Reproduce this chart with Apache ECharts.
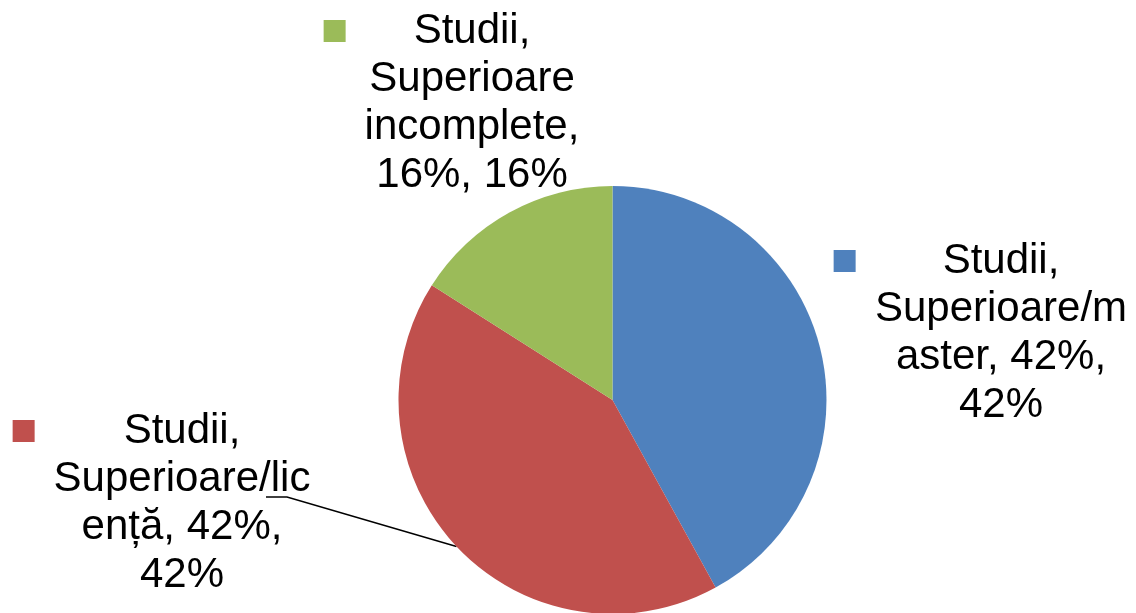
<!DOCTYPE html>
<html>
<head>
<meta charset="utf-8">
<script src="https://cdn.jsdelivr.net/npm/echarts@6/dist/echarts.min.js"></script>
<style>
html,body{margin:0;padding:0;background:#fff;}
#chart{width:1136px;height:613px;}
</style>
</head>
<body>
<div id="chart"></div>
<script>
// Data
var categories = ['Studii, Superioare/master', 'Studii, Superioare/licență', 'Studii, Superioare incomplete'];
var values = [42, 42, 16];
var percents = ['42%', '42%', '16%'];
var labelLines = [
  ['Studii,', 'Superioare/m', 'aster, 42%,', '42%'],
  ['Studii,', 'Superioare/lic', 'ență, 42%,', '42%'],
  ['Studii,', 'Superioare', 'incomplete,', '16%, 16%']
];
var colors = ['#4F81BD', '#C0504D', '#9BBB59'];

// Layout (style only)
var labelPos = [
  {x: 1001, y: 237, gap: 109},
  {x: 182, y: 407, gap: 111},
  {x: 472, y: 7, gap: 90}
];

var chart = echarts.init(document.getElementById('chart'), null, {renderer: 'canvas'});

var data = categories.map(function (name, i) {
  var g = labelPos[i].gap;
  var rich = {
    sq: {width: 22, height: 22, backgroundColor: colors[i]},
    sp: {width: g - 22, height: 1},
    sr: {width: g, height: 1}
  };
  return {
    name: name,
    value: values[i],
    itemStyle: {color: colors[i]},
    label: {
      formatter: '{sq|}{sp|}' + labelLines[i][0] + '{sr|}\n' + labelLines[i].slice(1).join('\n'),
      rich: rich
    },
    labelLine: {show: i === 1}
  };
});

chart.setOption({
  animation: false,
  backgroundColor: '#ffffff',
  series: [{
    type: 'pie',
    center: [612.5, 400],
    radius: [0, 214],
    startAngle: 90,
    clockwise: true,
    avoidLabelOverlap: false,
    data: data,
    label: {
      show: true,
      position: 'outside',
      overflow: 'none',
      fontFamily: 'Liberation Sans, Arial, sans-serif',
      fontSize: 42,
      lineHeight: 48,
      color: '#000',
      align: 'center'
    },
    labelLine: {
      show: true,
      length: 10,
      length2: 10,
      lineStyle: {color: '#000', width: 1.5}
    },
    emphasis: {disabled: true}
  }]
});

chart.setOption({
  series: [{
    labelLayout: function (params) {
      var i = params.dataIndex;
      var p = labelPos[i];
      var res = {x: p.x, y: p.y, align: 'center', verticalAlign: 'top', hideOverlap: false};
      if (i === 1 && params.labelLinePoints) {
        var p0 = params.labelLinePoints[0];
        res.labelLinePoints = [[p0[0], p0[1]], [287, 497], [266, 497]];
      }
      return res;
    }
  }]
});
</script>
</body>
</html>
